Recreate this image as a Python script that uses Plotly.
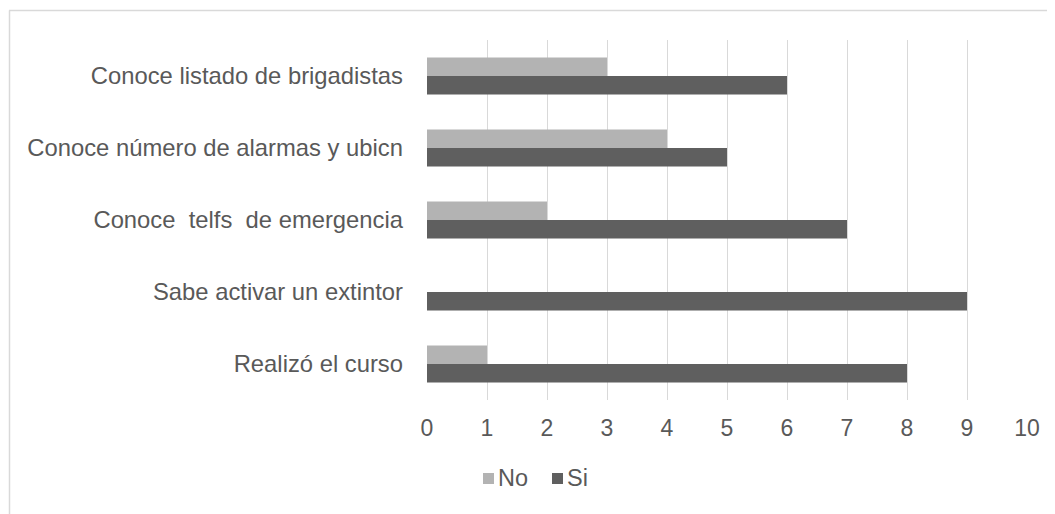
import plotly.graph_objects as go

categorias = [
    "Conoce listado de brigadistas",
    "Conoce número de alarmas y ubicn",
    "Conoce  telfs  de emergencia",
    "Sabe activar un extintor",
    "Realizó el curso",
]
no_vals = [3, 4, 2, 0, 1]
si_vals = [6, 5, 7, 9, 8]
x_ticks = list(range(0, 11))
series = [("No", "#b3b3b3"), ("Si", "#5f5f5f")]

# page offset of 8px from the default body margin
OFF = 8
W, H = 1055 - OFF, 514 - OFF
L, R, T, B = 419, 28, 32, 114
pw, ph = W - L - R, H - T - B


def px_x(x):
    return (x - OFF - L) / pw


def px_y(y):
    return (T + ph - (y - OFF)) / ph


fig = go.Figure()
for (name, color), vals in zip(series, [no_vals, si_vals]):
    fig.add_trace(go.Bar(y=categorias, x=vals, name=name, orientation="h",
                         marker=dict(color=color, line=dict(width=0))))

font = dict(family="Liberation Sans, Arial, sans-serif", size=23, color="#595959")

# hand-made legend (square key close to the text, like Excel)
shapes = [
    dict(type="line", xref="paper", yref="paper",
         x0=px_x(9), x1=px_x(1070), y0=px_y(10.5), y1=px_y(10.5),
         line=dict(color="#d9d9d9", width=1.5)),
    dict(type="line", xref="paper", yref="paper",
         x0=px_x(9.5), x1=px_x(9.5), y0=px_y(10.5), y1=px_y(530),
         line=dict(color="#d9d9d9", width=1.5)),
]
annotations = []
for (name, color), kx in zip(series, [483, 552]):
    shapes.append(dict(type="rect", xref="paper", yref="paper",
                       x0=px_x(kx), x1=px_x(kx + 11), y0=px_y(473), y1=px_y(484),
                       fillcolor=color, line=dict(width=0)))
    annotations.append(dict(text=name, xref="paper", yref="paper",
                            x=px_x(kx + 13), y=px_y(478), xanchor="left",
                            yanchor="middle", showarrow=False,
                            font=dict(size=23.5, color="#595959")))

fig.update_layout(
    width=W, height=H,
    margin=dict(l=L, r=R, t=T, b=B),
    paper_bgcolor="white", plot_bgcolor="white",
    barmode="group", bargap=0.486, bargroupgap=0,
    font=font,
    showlegend=False,
    xaxis=dict(range=[0, 10], tickvals=x_ticks, showgrid=True,
               gridcolor="#d9d9d9", gridwidth=1.3, zeroline=False,
               showline=False, ticks="", ticklabelstandoff=12, fixedrange=True),
    yaxis=dict(autorange="reversed", showgrid=False, zeroline=False,
               showline=False, ticks="", ticklabelstandoff=23,
               tickfont=dict(size=23.8)),
    shapes=shapes,
    annotations=annotations,
)

fig.write_html("out.html")
